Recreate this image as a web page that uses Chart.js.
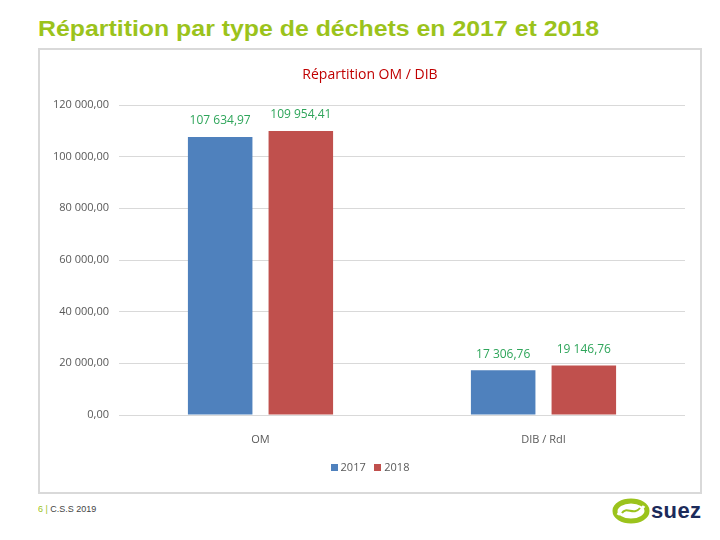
<!DOCTYPE html>
<html>
<head>
<meta charset="utf-8">
<script src="https://cdn.jsdelivr.net/npm/chart.js@4"></script>
<style>
  body { margin: 0; width: 720px; height: 540px; background: #fff; position: relative; overflow: hidden; font-family: "Liberation Sans", Arial, sans-serif; }
  #title { position: absolute; left: 38px; top: 16px; font-size: 22px; font-weight: bold; color: #9bc31c; white-space: nowrap; transform: scaleX(1.13); transform-origin: left top; }
  #panel { position: absolute; left: 38px; top: 48px; width: 660px; height: 442px; border: 2px solid #d9d9d9; }
  #charttitle { position: absolute; left: 0; width: 660px; top: 14px; text-align: center; font-family: "Open Sans", sans-serif; font-size: 14px; color: #c00000; }
  #legend { position: absolute; left: 0; width: 660px; top: 409px; text-align: center; font-family: "Open Sans", sans-serif; font-size: 11px; color: #595959; }
  #legend span.box { display: inline-block; width: 7px; height: 7px; margin-right: 3px; }
  #footer { position: absolute; left: 38px; top: 504px; font-size: 9px; color: #444; }
  #footer b { color: #9bc31c; font-weight: normal; }
  #logo { position: absolute; left: 612px; top: 498px; }
</style>
</head>
<body>
<div id="title">Répartition par type de déchets en 2017 et 2018</div>
<div id="panel">
  <canvas id="canvas" width="660" height="442"></canvas>
  <div id="charttitle">Répartition OM / DIB</div>
  <div id="legend"><span class="box" style="background:#4f81bd"></span>2017&nbsp;&nbsp;&nbsp;<span class="box" style="background:#c0504d"></span>2018</div>
</div>
<div id="footer"><b>6 |</b> C.S.S 2019</div>
<svg id="logo" width="92" height="26" viewBox="0 0 92 26">
  <ellipse cx="19" cy="13" rx="16" ry="10" fill="none" stroke="#9bc31c" stroke-width="5"/>
  <path d="M6 17 C 12 4, 22 22, 32 8" fill="none" stroke="#fff" stroke-width="3"/>
  <path d="M10 15 C 14 8, 22 18, 28 10" fill="none" stroke="#9bc31c" stroke-width="2"/>
  <text x="39" y="20" font-family="Liberation Sans, Arial" font-weight="bold" font-size="22" fill="#1c2b5a" textLength="50">suez</text>
</svg>
<script>
const categories = ['OM', 'DIB / RdI']
const years = ['2017', '2018']
const values2017 = [107634.97, 17306.76]
const values2018 = [109954.41, 19146.76]
const yTicks = [0, 20000, 40000, 60000, 80000, 100000, 120000]

function frNumber(v) {
  const parts = v.toFixed(2).split('.')
  const intPart = parts[0].replace(/\B(?=(\d{3})+(?!\d))/g, ' ')
  return intPart + ',' + parts[1]
}

// green value labels above each bar
const valueLabels = {
  id: 'valueLabels',
  afterDatasetsDraw(chart) {
    const ctx = chart.ctx
    ctx.save()
    ctx.font = '12px "Open Sans", sans-serif'
    ctx.fillStyle = '#2ea55a'
    ctx.textAlign = 'center'
    ctx.textBaseline = 'middle'
    chart.data.datasets.forEach((ds, i) => {
      chart.getDatasetMeta(i).data.forEach((bar, j) => {
        ctx.fillText(frNumber(ds.data[j]), bar.x, bar.y - 16)
      })
    })
    ctx.restore()
  },
}

const data = {
  labels: categories,
  datasets: [
    { label: years[0], data: values2017, backgroundColor: '#4f81bd' },
    { label: years[1], data: values2018, backgroundColor: '#c0504d' },
  ],
}

const config = {
  type: 'bar',
  data: data,
  options: {
    responsive: false,
    animation: false,
    layout: { padding: { top: 55, right: 15, left: 0, bottom: 0 } },
    categoryPercentage: 0.57,
    barPercentage: 0.8,
    plugins: { legend: { display: false }, title: { display: false }, tooltip: { enabled: false } },
    scales: {
      x: {
        grid: { display: false },
        border: { display: false },
        ticks: { color: '#595959', font: { family: 'Open Sans', size: 11 }, padding: 10 },
        afterFit(scale) { scale.height = 77 },
      },
      y: {
        min: 0,
        max: 120000,
        afterBuildTicks(scale) { scale.ticks = yTicks.map((v) => ({ value: v })) },
        grid: { color: '#d9d9d9', drawTicks: false },
        border: { display: false },
        ticks: {
          color: '#595959',
          font: { family: 'Open Sans', size: 11 },
          padding: 10,
          callback: (v) => frNumber(v),
        },
        afterFit(scale) { scale.width = 79 },
      },
    },
  },
  plugins: [valueLabels],
}

const chart = new Chart(document.getElementById('canvas'), config)
</script>
</body>
</html>
